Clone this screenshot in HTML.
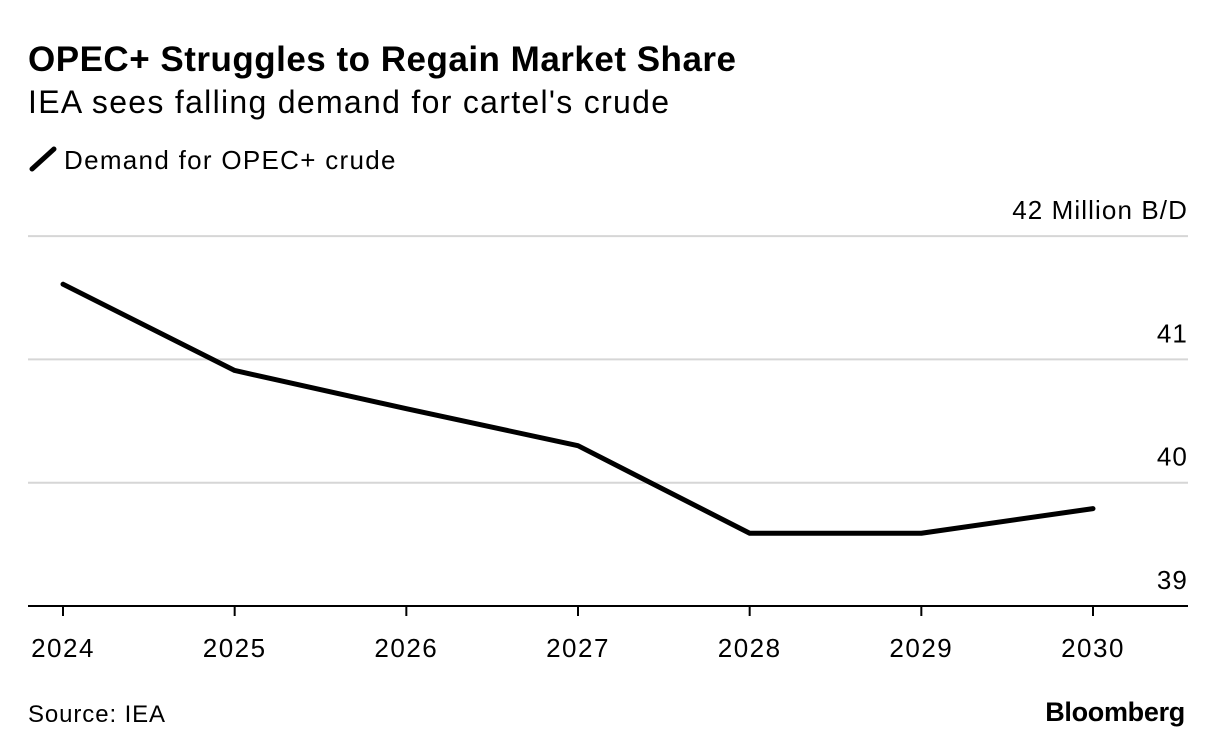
<!DOCTYPE html>
<html><head><meta charset="utf-8"><style>
body{margin:0;background:#fff;font-family:"Liberation Sans",sans-serif;}
#c{position:relative;width:1223px;height:756px;overflow:hidden}
.t{position:absolute;white-space:nowrap;color:#000}
</style></head><body>
<div id="c">
<div class="t" style="left:28px;top:40px;font-size:35px;font-weight:bold;letter-spacing:0.5px">OPEC+ Struggles to Regain Market Share</div>
<div class="t" style="left:28px;top:84px;font-size:32px;letter-spacing:1.3px">IEA sees falling demand for cartel's crude</div>
<div class="t" style="left:28px;top:145px;font-size:26px;letter-spacing:1.3px"><svg width="36" height="28" style="vertical-align:-4px"><line x1="4" y1="24" x2="26" y2="4" stroke="#000" stroke-width="5" stroke-linecap="round"/></svg>Demand for OPEC+ crude</div>
<div class="t" style="left:28px;top:701px;font-size:24px;letter-spacing:0.9px">Source: IEA</div>
<div class="t" style="right:38px;top:697px;font-size:27px;font-weight:bold;letter-spacing:-0.3px">Bloomberg</div>
<svg id="s" width="1223" height="756" style="position:absolute;left:0;top:0"></svg>
</div>
<script>
const years=["2024","2025","2026","2027","2028","2029","2030"];
const demand=[41.61,40.91,40.6,40.3,39.59,39.59,39.79];
const yTicks=[39,40,41,42];
const yTickLabels=["39","40","41","42 Million B/D"];
const ns="http://www.w3.org/2000/svg",s=document.getElementById('s');
const x=i=>63+i*(1093-63)/(years.length-1);
const y=v=>606-(v-39)*123.3;
function mk(t,a){const e=document.createElementNS(ns,t);for(const k in a)e.setAttribute(k,a[k]);s.appendChild(e);return e;}
yTicks.forEach((v,i)=>{
 if(v>39){const g=mk('line',{x1:28,x2:1188,y1:y(v),y2:y(v),stroke:'#d6d6d6','stroke-width':2});
 
 }
 const t=mk('text',{x:1188,y:y(v)-17,'text-anchor':'end','font-size':26,'letter-spacing':'1.1','font-family':'Liberation Sans, sans-serif'});
 t.textContent=yTickLabels[i];
 
 
});
const ax=mk('line',{x1:28,x2:1188,y1:606,y2:606,stroke:'#000','stroke-width':2});


years.forEach((yr,i)=>{
 const tk=mk('line',{x1:x(i),x2:x(i),y1:606,y2:616,stroke:'#000','stroke-width':2});
 
 
 const t=mk('text',{x:x(i),y:657,'text-anchor':'middle','font-size':26,'letter-spacing':'1.5','font-family':'Liberation Sans, sans-serif'});
 t.textContent=yr;
 
 
});
const p=mk('polyline',{points:demand.map((v,i)=>x(i)+','+y(v)).join(' '),fill:'none',stroke:'#000','stroke-width':5,'stroke-linejoin':'round','stroke-linecap':'round'});


</script>
</body></html>
